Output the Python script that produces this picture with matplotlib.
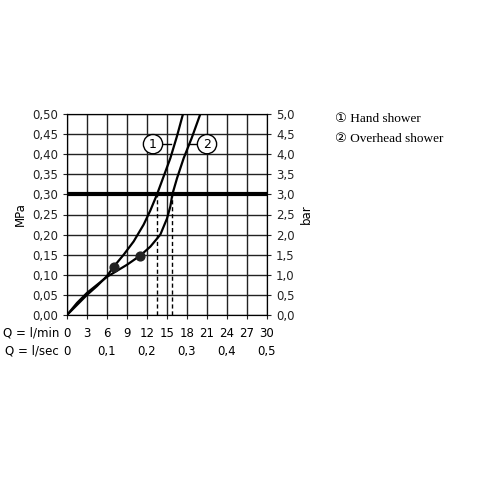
import numpy as np
import matplotlib.pyplot as plt

# flow l/min vs pressure MPa
q_hand = [0, 1.5, 3, 4.5, 6, 7, 8.5, 10, 11.5, 12.5, 13.5, 14.5, 15.5, 16.5, 17.4]
p_hand = [0, 0.025, 0.05, 0.072, 0.097, 0.12, 0.15, 0.183, 0.225, 0.26, 0.30, 0.345, 0.39, 0.445, 0.50]
q_head = [0, 1.5, 3, 4.5, 6, 7.5, 9, 11, 12.5, 14, 15, 15.5, 15.8, 16.5, 17.5, 18.7, 20]
p_head = [0, 0.03, 0.055, 0.075, 0.095, 0.11, 0.125, 0.148, 0.17, 0.2, 0.24, 0.27, 0.30, 0.34, 0.39, 0.44, 0.50]
dots_q = [7, 11]
dots_p = [0.12, 0.148]
dash_q = [13.5, 15.8]

xticks_min = list(range(0, 31, 3))
xticks_sec = ["0", "0,1", "0,2", "0,3", "0,4", "0,5"]
yticks = np.arange(0, 0.501, 0.05)

fig = plt.figure(figsize=(5, 5), dpi=100)
ax = fig.add_axes([0.134, 0.37, 0.4, 0.402])
ax.set_xlim(0, 30)
ax.set_ylim(0, 0.5)
ax.set_xticks(xticks_min)
ax.set_yticks(yticks)
ax.grid(True, color="#222", lw=1.0)
ax.set_xticklabels([])
ax.set_yticklabels([f"{v:.2f}".replace(".", ",") for v in yticks], fontsize=8.5)
ax.tick_params(length=3, colors="#222")
for s in ax.spines.values():
    s.set_color("#222")
ax.set_ylabel("MPa", fontsize=8.5)
ax.axhline(0.3, color="black", lw=3)

ax.plot(q_hand, p_hand, color="black", lw=1.6)
ax.plot(q_head, p_head, color="black", lw=1.6)
ax.scatter(dots_q, dots_p, color="#222", s=40, zorder=5)
for q, p in zip(dash_q, [0.30, 0.30]):
    ax.plot([q, q], [0, p], color="black", lw=1, ls=(0, (3, 2)))

# callouts
ax.text(12.9, 0.425, "1", ha="center", va="center", fontsize=9,
        bbox=dict(boxstyle="circle,pad=0.25", fc="white", ec="black", lw=1))
ax.plot([13.8, 15.6], [0.425, 0.425], color="black", lw=1)
ax.text(21, 0.425, "2", ha="center", va="center", fontsize=9,
        bbox=dict(boxstyle="circle,pad=0.25", fc="white", ec="black", lw=1))
ax.plot([18.2, 20.1], [0.425, 0.425], color="black", lw=1)

ax2 = ax.twinx()
ax2.set_ylim(0, 5)
ax2.set_yticks(np.arange(0, 5.01, 0.5))
ax2.set_yticklabels([f"{v:.1f}".replace(".", ",") for v in np.arange(0, 5.01, 0.5)], fontsize=8.5)
ax2.set_ylabel("bar", fontsize=8.5)
ax2.tick_params(length=3, colors="#222")

for q in xticks_min:
    ax.text(q, -0.045, str(q), ha="center", va="center", fontsize=8.5)
for i, lab in enumerate(xticks_sec):
    ax.text(i * 6, -0.09, lab, ha="center", va="center", fontsize=8.5)
ax.text(-1.2, -0.045, "Q = l/min", ha="right", va="center", fontsize=8.5)
ax.text(-1.2, -0.09, "Q = l/sec", ha="right", va="center", fontsize=8.5)

fig.text(0.67, 0.762, "\u2460 Hand shower", fontsize=9.5, family=["Liberation Serif", "DejaVu Sans"], va="center")
fig.text(0.67, 0.722, "\u2461 Overhead shower", fontsize=9.5, family=["Liberation Serif", "DejaVu Sans"], va="center")

fig.savefig("out.png", dpi=100, facecolor="white")
